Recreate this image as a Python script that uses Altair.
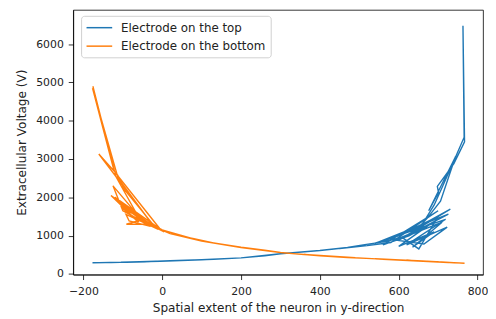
import altair as alt
import pandas as pd

# Compartment position along y (shared by both electrodes), and voltages
pos = [-176, -118, -60, 0, 60, 130, 200, 260, 300, 360, 430, 490,
       400, 300, 200, 100, -5, -122, -177, -112, -20, -161, -113, -96,
       -15, -130, -60, -105, -10, -92, -84, -30, -115, -40, -91, -50,
       -120, 5, -70, -100, -125, -45, 20, 100, 200, 300, 400, 470, 518,
       570, 620, 660, 690, 712, 739, 766, 763, 767, 740, 698, 701,
       676, 744, 706, 672, 640, 600, 550, 645, 731, 600, 726, 540,
       719, 620, 723, 664, 580, 700, 651, 610, 710, 635, 690, 600,
       680, 626, 560, 700, 580, 520, 450]

top_v = [292, 300, 314, 334, 352, 382, 418, 470, 525, 575, 640, 712,
         612, 526, 419, 371, 332, 301, 290, 302, 326, 294, 301, 305,
         328, 299, 314, 303, 330, 306, 308, 322, 302, 318, 306, 316,
         300, 336, 311, 304, 300, 317, 342, 372, 420, 528, 612, 690, 770,
         850, 990, 1300, 1800, 2300, 2930, 3570, 6480, 3450, 2880, 2285, 2120,
         1650, 3060, 1900, 1450, 1100, 930, 830, 1200, 1690, 880, 1560, 800,
         1426, 760, 1220, 780, 900, 1500, 652, 940, 1350, 696, 1100, 720,
         1300, 995, 760, 1650, 820, 740, 665]

bottom_v = [4900, 2550, 1480, 1150, 965, 810, 700, 620, 560, 505, 462, 425,
            470, 556, 692, 855, 1165, 2680, 4850, 2500, 1220, 3130, 2580, 2200,
            1190, 2045, 1350, 1760, 1160, 1555, 1383, 1240, 1900, 1300, 1297, 1420,
            2000, 1100, 1480, 1650, 2300, 1330, 1050, 860, 690, 555, 475, 430, 405,
            378, 355, 336, 320, 308, 292, 280, 282, 279, 291, 318, 316,
            328, 289, 314, 330, 345, 362, 388, 342, 296, 362, 299, 395,
            303, 355, 301, 334, 372, 312, 340, 358, 308, 347, 320, 362,
            323, 350, 380, 312, 372, 404, 445]

series = ["Electrode on the top", "Electrode on the bottom"]
colors = ["#1f77b4", "#ff7f0e"]
x_ticks = [-200, 0, 200, 400, 600, 800]
y_ticks = [0, 1000, 2000, 3000, 4000, 5000, 6000]

df_top = pd.DataFrame({"pos": pos, "v": top_v, "s": series[0], "i": list(range(len(pos)))})
df_bot = pd.DataFrame({"pos": pos, "v": bottom_v, "s": series[1], "i": list(range(len(pos)))})

x_enc = alt.X("pos:Q", scale=alt.Scale(domain=[-226, 814], nice=False, zero=False),
              axis=alt.Axis(values=x_ticks, title="Spatial extent of the neuron in y-direction",
                            labelPadding=6, titlePadding=5))
y_enc = alt.Y("v:Q", scale=alt.Scale(domain=[-18, 6894], nice=False, zero=False),
              axis=alt.Axis(values=y_ticks, format="d", title="Extracellular Voltage (V)",
                            labelPadding=5, titlePadding=7))
c_enc = alt.Color("s:N", scale=alt.Scale(domain=series, range=colors),
                  legend=alt.Legend(title=None, orient="none", legendX=8, legendY=6,
                                    symbolType="M-1,0H3", symbolSize=169, symbolStrokeWidth=1.5,
                                    labelFontSize=12, labelOffset=21, rowPadding=4.7,
                                    padding=4.5, fillColor="white", strokeColor="#d0d0d0",
                                    cornerRadius=3, labelColor="#222", labelFont="DejaVu Sans"))

blue = alt.Chart(df_top).mark_line(strokeWidth=1.4, clip=True).encode(
    x=x_enc, y=y_enc, color=c_enc, order="i:Q")
orange = alt.Chart(df_bot).mark_line(strokeWidth=1.4, clip=True).encode(
    x=x_enc, y=y_enc, color=c_enc, order="i:Q")

chart = alt.layer(blue, orange).properties(
    width=415, height=268, autosize="none",
    padding={"left": 66, "top": 0, "right": 5, "bottom": 40},
).configure_view(stroke="black", strokeWidth=0.8).configure_axis(
    grid=False, domainColor="black", tickColor="black", labelColor="#222",
    titleColor="#222", labelFont="DejaVu Sans", titleFont="DejaVu Sans",
    labelFontSize=11, titleFontSize=12.2, titleFontWeight="normal",
    tickSize=5, domainWidth=0.8, tickWidth=0.8,
)

chart.save("out.html", embed_options={"renderer": "svg", "actions": False})
